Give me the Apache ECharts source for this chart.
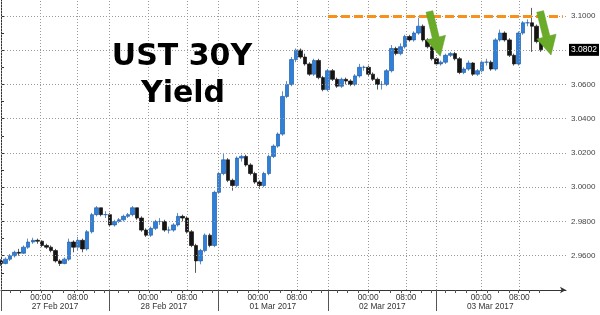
<!DOCTYPE html>
<html><head><meta charset="utf-8">
<script src="https://cdn.jsdelivr.net/npm/echarts@6/dist/echarts.min.js"></script>
<style>html,body{margin:0;padding:0;background:#fff}#c{width:600px;height:315px}</style>
</head><body><div id="c"></div>
<script>
// hourly candles (x = hour index from 26 Feb session start)
const opens = [2.957,2.9555,2.958,2.960,2.962,2.9615,2.965,2.968,2.969,2.9685,
 2.966,2.965,2.963,2.957,2.9555,2.958,2.968,2.965,2.969,2.964,
 2.974,2.984,2.988,2.984,2.984,2.978,2.980,2.981,2.983,2.984,
 2.988,2.982,2.975,2.972,2.976,2.980,2.980,2.975,2.975,2.978,
 2.983,2.982,2.974,2.966,2.957,2.963,2.972,2.966,2.997,3.008,
 3.016,3.004,3.001,3.017,3.018,3.013,3.008,3.003,3.001,3.008,
 3.018,3.024,3.031,3.053,3.060,3.0745,3.080,3.076,3.072,3.066,
 3.074,3.064,3.057,3.068,3.063,3.059,3.063,3.062,3.060,3.065,
 3.070,3.070,3.066,3.063,3.060,3.060,3.068,3.081,3.078,3.082,
 3.088,3.086,3.090,3.094,3.086,3.082,3.075,3.072,3.073,3.077,
 3.078,3.075,3.067,3.069,3.0725,3.066,3.068,3.073,3.073,3.069,
 3.086,3.090,3.086,3.077,3.072,3.090,3.096,3.096,3.094,3.085];
const closes = [2.9555,2.958,2.960,2.962,2.9615,2.965,2.968,2.969,2.9685,2.966,
 2.965,2.963,2.957,2.9555,2.958,2.968,2.965,2.969,2.964,2.974,
 2.984,2.988,2.984,2.984,2.978,2.980,2.981,2.983,2.984,2.988,
 2.982,2.975,2.972,2.976,2.980,2.980,2.975,2.975,2.978,2.983,
 2.982,2.974,2.966,2.957,2.963,2.972,2.966,2.997,3.008,3.016,
 3.004,3.001,3.017,3.018,3.013,3.008,3.003,3.001,3.008,3.018,
 3.024,3.031,3.053,3.060,3.0745,3.080,3.076,3.072,3.066,3.074,
 3.064,3.057,3.068,3.063,3.059,3.063,3.062,3.060,3.065,3.070,
 3.070,3.066,3.063,3.060,3.060,3.068,3.081,3.078,3.082,3.088,
 3.086,3.090,3.094,3.086,3.082,3.075,3.072,3.073,3.077,3.078,
 3.075,3.067,3.069,3.0725,3.066,3.068,3.073,3.073,3.069,3.086,
 3.090,3.086,3.077,3.072,3.090,3.096,3.096,3.094,3.085,3.0802];
const lows = [2.954,2.955,2.957,2.959,2.960,2.961,2.964,2.967,2.967,2.965,
 2.964,2.962,2.956,2.954,2.955,2.957,2.962,2.963,2.962,2.963,
 2.973,2.983,2.983,2.982,2.977,2.977,2.979,2.980,2.982,2.983,
 2.981,2.974,2.971,2.971,2.975,2.978,2.974,2.973,2.974,2.977,
 2.980,2.973,2.965,2.950,2.955,2.962,2.965,2.965,2.996,3.007,
 3.003,2.998,3.000,3.015,3.012,3.007,3.002,2.999,3.000,3.007,
 3.017,3.023,3.030,3.052,3.059,3.073,3.075,3.071,3.065,3.065,
 3.063,3.056,3.056,3.062,3.058,3.058,3.060,3.059,3.059,3.064,
 3.068,3.065,3.062,3.057,3.057,3.059,3.067,3.077,3.077,3.081,
 3.085,3.085,3.089,3.085,3.081,3.074,3.071,3.071,3.072,3.076,
 3.074,3.066,3.066,3.068,3.065,3.065,3.067,3.071,3.068,3.068,
 3.085,3.085,3.076,3.071,3.071,3.089,3.094,3.079,3.084,3.079];
const highs = [2.958,2.959,2.961,2.963,2.964,2.966,2.970,2.9705,2.970,2.969,
 2.967,2.966,2.964,2.958,2.959,2.970,2.969,2.971,2.970,2.975,
 2.985,2.989,2.988,2.986,2.985,2.981,2.982,2.984,2.985,2.989,
 2.988,2.983,2.976,2.977,2.981,2.982,2.981,2.977,2.979,2.985,
 2.984,2.983,2.975,2.967,2.964,2.973,2.973,2.998,3.009,3.020,
 3.017,3.005,3.018,3.019,3.019,3.014,3.009,3.004,3.009,3.019,
 3.025,3.032,3.056,3.062,3.076,3.081,3.081,3.078,3.073,3.075,
 3.075,3.065,3.069,3.069,3.064,3.064,3.064,3.063,3.066,3.072,
 3.071,3.071,3.067,3.064,3.062,3.069,3.083,3.082,3.084,3.089,
 3.089,3.091,3.099,3.095,3.087,3.083,3.076,3.074,3.078,3.079,
 3.079,3.076,3.070,3.074,3.073,3.069,3.074,3.075,3.074,3.087,
 3.092,3.091,3.087,3.078,3.091,3.097,3.098,3.1047,3.095,3.086];

// axis layout (x in session hours)
const separators = [0, 23.8, 47.8, 72.05, 95.85];
const dateCenters = [11.9, 35.9, 59.9, 84.0, 107.8];
const dateLabels = ['27 Feb 2017', '28 Feb 2017', '01 Mar 2017', '02 Mar 2017', '03 Mar 2017'];
const timeHours = [8.75, 16.9, 32.4, 41.0, 56.6, 65.2, 80.9, 89.25, 105.8, 114.2];
const timeLabels = ['00:00','08:00','00:00','08:00','00:00','08:00','00:00','08:00','00:00','08:00'];
const minorOffsets = [1.98, 4.34, 6.77, 8.97, 11.39, 13.73, 16.09, 18.14, 20.56, 22.76];
const yTickValues = [2.94,2.95,2.96,2.97,2.98,2.99,3.00,3.01,3.02,3.03,3.04,3.05,3.06,3.07,3.08,3.09,3.10];
const yLabelValues = [2.96,2.98,3.00,3.02,3.04,3.06,3.08,3.10];
const lastPrice = 3.0802;
const resistance = 3.10;
const resistanceFrom = 72.05, resistanceTo = 123.8;
const arrowFrom = [[94.4, 3.1026], [118.8, 3.1026]];
const arrowTo = [[96.8, 3.0765], [121.2, 3.0772]];

const X_MIN = 0, X_MAX = 124.5, Y_MIN = 2.94, Y_MAX = 3.1093;

const candleData = closes.map((c, i) => [i, opens[i], c, lows[i], highs[i]]);
const minorTicks = [];
separators.forEach(s => minorOffsets.forEach(o => minorTicks.push(+(s + o).toFixed(2))));

function lookup(v, keys, labels) {
  for (let i = 0; i < keys.length; i++) if (Math.abs(keys[i] - v) < 1e-6) return labels[i];
  return '';
}

const gridStyle = {color: '#9a9a9a', width: 1, type: [1, 2]};
const gridLines = [];
separators.concat(timeHours).forEach(h => gridLines.push([{coord: [h, Y_MIN]}, {coord: [h, Y_MAX]}]));
yLabelValues.forEach(v => gridLines.push([{coord: [X_MIN, v]}, {coord: [X_MAX, v]}]));

const chart = echarts.init(document.getElementById('c'), null, {renderer: 'canvas'});
const labelFont = 'Liberation Sans';
chart.setOption({
  animation: false,
  backgroundColor: '#fff',
  grid: {left: 1, right: 34, top: 0, bottom: 25, outerBoundsMode: 'none', containLabel: false},
  xAxis: [{
    type: 'value', min: X_MIN, max: X_MAX, position: 'bottom', offset: 0,
    axisLine: {show: true, lineStyle: {color: '#333', width: 1}, symbol: ['none', 'arrow'], symbolSize: [5, 6]},
    axisTick: {show: true, customValues: minorTicks, length: 3, lineStyle: {color: '#555'}},
    axisLabel: {show: true, customValues: timeHours, margin: 4, fontSize: 8.3, color: '#333', fontFamily: labelFont,
      formatter: v => lookup(v, timeHours, timeLabels)},
    splitLine: {show: false}
  }, {
    type: 'value', min: X_MIN, max: X_MAX, position: 'bottom', offset: 0,
    axisLine: {show: false},
    axisTick: {show: true, customValues: separators, length: 21, lineStyle: {color: '#555', width: 1}},
    axisLabel: {show: true, customValues: dateCenters, margin: 13, fontSize: 8.3, color: '#333', fontFamily: labelFont,
      formatter: v => lookup(v, dateCenters, dateLabels)},
    splitLine: {show: false}
  }],
  yAxis: {
    type: 'value', position: 'right', min: Y_MIN, max: Y_MAX, interval: 0.02,
    axisLine: {show: true, lineStyle: {color: '#333', width: 1}},
    axisTick: {show: true, customValues: yTickValues, length: 3, lineStyle: {color: '#333'}},
    axisLabel: {show: true, customValues: yLabelValues, margin: 5, fontSize: 8, color: '#444', fontFamily: labelFont,
      formatter: v => v.toFixed(4)},
    splitLine: {show: false}
  },
  series: [{
    type: 'line', data: [], z: 1, silent: true,
    markLine: {silent: true, symbol: ['none', 'none'], label: {show: false}, animation: false,
      lineStyle: gridStyle, data: gridLines}
  }, {
    type: 'line', data: [], z: 4, silent: true,
    markLine: {silent: true, symbol: ['none', 'none'], label: {show: false}, animation: false,
      data: [[{coord: [resistanceFrom, resistance]}, {coord: [resistanceTo, resistance]}]],
      lineStyle: {color: '#f7911a', width: 3, type: [9, 4]}}
  }, {
    type: 'line', data: [], z: 6, silent: true,
    markLine: {silent: true, symbol: ['none', 'none'], animation: false,
      lineStyle: {color: 'rgba(0,0,0,0)', width: 0},
      label: {show: true, position: 'end', distance: 3, formatter: () => lastPrice.toFixed(4),
        backgroundColor: '#000', color: '#fff', padding: [2, 2, 1, 2], fontSize: 8.5, fontFamily: labelFont},
      data: [[{coord: [X_MIN, lastPrice]}, {coord: [X_MAX, lastPrice]}]]}
  }, {
    type: 'candlestick', z: 3, clip: false,
    encode: {x: 0, y: [1, 2, 3, 4]},
    data: candleData,
    barWidth: 4,
    itemStyle: {color: '#2f80d8', color0: '#151515', borderColor: '#1f5fae', borderColor0: '#151515', borderWidth: 0.7}
  }]
});

function arrowPoly(p0, p1, shaftW, headW, headL) {
  const dx = p1[0] - p0[0], dy = p1[1] - p0[1], L = Math.hypot(dx, dy);
  const ux = dx / L, uy = dy / L, nx = -uy, ny = ux;
  const bx = p1[0] - ux * headL, by = p1[1] - uy * headL;
  return [[p0[0] + nx * shaftW / 2, p0[1] + ny * shaftW / 2], [bx + nx * shaftW / 2, by + ny * shaftW / 2],
    [bx + nx * headW / 2, by + ny * headW / 2], p1, [bx - nx * headW / 2, by - ny * headW / 2],
    [bx - nx * shaftW / 2, by - ny * shaftW / 2], [p0[0] - nx * shaftW / 2, p0[1] - ny * shaftW / 2]];
}
const graphics = [
  {type: 'text', x: 182, y: 57, z: 10,
    style: {text: 'UST 30Y', font: 'bold 30px "DejaVu Sans"', fill: '#000', textAlign: 'center', textVerticalAlign: 'middle'}},
  {type: 'text', x: 183, y: 94, z: 10,
    style: {text: 'Yield', font: 'bold 30px "DejaVu Sans"', fill: '#000', textAlign: 'center', textVerticalAlign: 'middle'}}
];
arrowFrom.forEach((f, i) => {
  const p0 = chart.convertToPixel({gridIndex: 0}, f);
  const p1 = chart.convertToPixel({gridIndex: 0}, arrowTo[i]);
  graphics.push({type: 'polygon', z: 10, shape: {points: arrowPoly(p0, p1, 7, 20, 19)},
    style: {fill: '#6aab2a', stroke: '#5e9c22', lineWidth: 0.5}});
});
chart.setOption({graphic: graphics});
</script>
</body></html>
